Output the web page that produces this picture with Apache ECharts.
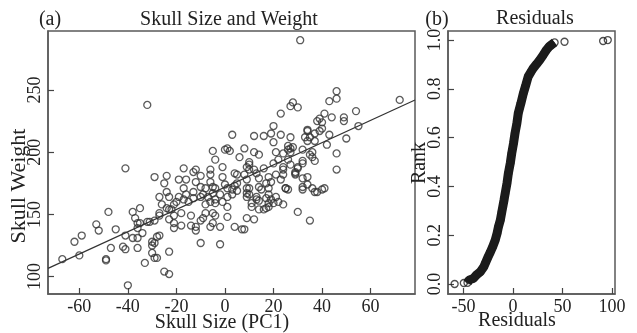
<!DOCTYPE html>
<html>
<head>
<meta charset="utf-8">
<script src="https://cdn.jsdelivr.net/npm/echarts@6/dist/echarts.min.js"></script>
<style>
  html, body { margin: 0; padding: 0; background: #fff; }
  #chart { width: 637px; height: 333px; }
</style>
</head>
<body>
<div id="chart"></div>
<script>
// (a) skull size (PC1) vs skull weight
const skullPoints = [
  [-67,114],[-60,117],[-62,128],[-59,133],[-53,142],[-52,137],[-48,152],[-45,138],[-47,123],[-49,114],
  [-49,113],[-42,124],[-41,122],[-40,93],[-41,133],[-41,187],[-38,131],[-36,131],[-38,152],[-35,155],
  [-37,147],[-36,143],[-36,139],[-34,135],[-35,143],[-32,144],[-36,123],[-33,111],[-31,144],[-29,145],
  [-30,128],[-29,127],[-30,125],[-30,119],[-29,115],[-28,115],[-28,132],[-27,133],[-27,149],[-27,151],
  [-25,104],[-23,102],[-23,120],[-27,164],[-23,164],[-26,158],[-24,155],[-23,154],[-21,158],[-23,146],
  [-32,238],[-29,180],[-24,181],[-25,175],[-24,168],
  [27,237],[23,231],[20,221],[3,214],[12,213],[16,213],[19,215],[23,214],[27,212],[20,208],
  [26,205],[-5,201],[0,202],[2,201],[1,203],[8,203],[12,200],[14,198],[21,200],[24,199],
  [26,202],[27,200],[-4,194],[6,196],[10,192],[10,190],[-17,187],[-12,186],[-13,184],[-6,186],
  [-6,182],[-1,188],[4,183],[5,182],[9,188],[10,186],[12,186],[13,183],[16,187],[20,191],
  [22,194],[24,188],[24,186],[26,194],[27,190],[14,179],[18,180],[21,182],[24,182],[23,178],
  [-19,178],[-16,178],[-12,176],[-10,172],[-8,171],[-6,176],[-5,172],[-4,171],[-1,180],[0,174],
  [1,171],[3,170],[4,173],[5,175],[5,169],[8,182],[9,178],[10,171],[15,170],[17,175],
  [19,176],[25,171],[-17,171],[-16,166],[-13,168],[-19,164],[-9,166],[-7,164],[-5,167],[-2,166],
  [1,164],[3,166],[10,166],[13,164],[18,166],[-20,160],[-17,162],[-15,160],[-13,163],[-10,164],
  [-8,158],[-6,160],[-4,162],[-1,160],[1,156],[-22,154],[-21,149],[-18,151],[-14,149],[-21,139],
  [-21,143],[-18,141],[-14,141],[-12,140],[-12,137],[-10,145],[-9,147],[-8,151],[-5,151],[-4,149],
  [-6,140],[-5,143],[-2,140],[1,148],[-10,127],[-2,126],[7,138],[8,138],[9,147],[12,146],
  [11,156],[14,154],[17,155],[18,159],[9,164],[13,162],[17,163],[19,162],[21,164],[-10,181],
  [-4,159],[4,140],[9,167],[11,159],[14,161],[16,154],[18,156],[20,159],[22,160],[24,158],
  [9,171],[14,172],[18,171],[26,170],[29,182],[29,184],[32,179],[34,174],[37,168],[36,171],
  [30,152],[35,145],[25,171],
  [28,204],[27,203],[34,217],[35,212],[37,215],[39,217],[40,219],[43,214],[50,211],[34,209],
  [37,209],[42,206],[36,200],[35,198],[36,196],[37,193],[32,193],[32,191],[30,188],[30,187],
  [29,183],[46,199],[46,186],[34,180],[32,172],[32,170],[38,168],[40,170],[41,171],[33,212],
  [32,202],[31,290],[28,240],[30,236],[46,249],[46,243],[43,241],[41,231],[39,227],[38,225],
  [40,224],[44,228],[49,228],[49,225],[54,233],[72,242],[55,221],[34,218]
];
// fitted line, read at the two frame edges
const fitLine = [[-72.9, 106.6], [78.3, 242]];

// (b) ranked residuals: dense band plus separate points at the ends
const bandPoints = [
  [-46,0.005],[-44.5,0.016],[-40,0.023],[-37,0.037],[-33,0.05],[-29.5,0.071],[-28,0.085],[-25.1,0.112],
  [-23,0.13],[-20.5,0.153],[-18,0.18],[-16.1,0.208],[-14.7,0.235],[-12.8,0.262],[-11.3,0.296],[-9.1,0.344],
  [-8,0.37],[-6.1,0.413],[-4.7,0.454],[-2.8,0.495],[-1.3,0.536],[0.5,0.577],[2,0.618],[3.9,0.659],
  [5.3,0.70],[7.9,0.74],[10.3,0.78],[12.9,0.816],[15.3,0.85],[18.2,0.87],[20.3,0.884],[23.9,0.902],
  [27,0.918],[30.5,0.939],[33.7,0.959],[36.5,0.973],[38.7,0.98],[42,0.99]
];
const endPoints = [[-59,0.0],[-49.7,0.004],[52,0.993],[91,0.996],[95.7,1.0]];

const sizeTicks = [-60, -40, -20, 0, 20, 40, 60];
const weightTicks = [100, 150, 200, 250];
const residTicks = [-50, 0, 50, 100];
const rankTicks = [0, 0.2, 0.4, 0.6, 0.8, 1.0];

const FONT = 'Liberation Serif';
const INK = '#222';

const chart = echarts.init(document.getElementById('chart'));

function valueAxis(min, max, ticks, extra) {
  return Object.assign({
    type: 'value',
    min: min,
    max: max,
    // the axis line sits on the grid frame
    axisLine: { show: true, onZero: false, lineStyle: { color: '#5a5a5a', width: 1.5 } },
    splitLine: { show: false },
    axisTick: { show: true, inside: true, length: 6, customValues: ticks, lineStyle: { color: '#444', width: 1.2 } },
    axisLabel: { customValues: ticks, color: INK, fontFamily: FONT, fontSize: 18, margin: 4 }
  }, extra || {});
}

function txt(text, x, y, rot, sx) {
  return {
    type: 'text', x: x, y: y, rotation: rot || 0, scaleX: sx || 1,
    style: { text: text, fill: INK, font: '20px "' + FONT + '"', align: 'center', verticalAlign: 'middle' }
  };
}

const option = {
  backgroundColor: '#fff',
  animation: false,
  grid: [
    { left: 48, top: 31, width: 367, height: 263, show: true, borderColor: '#5a5a5a', borderWidth: 1.5, outerBoundsMode: 'none' },
    { left: 448, top: 31, width: 167, height: 263, show: true, borderColor: '#5a5a5a', borderWidth: 1.5, outerBoundsMode: 'none' }
  ],
  xAxis: [
    valueAxis(-72.9, 78.3, sizeTicks, { gridIndex: 0 }),
    valueAxis(-65.7, 103, residTicks, { gridIndex: 1 })
  ],
  yAxis: [
    valueAxis(86, 297.4, weightTicks, { gridIndex: 0 }),
    valueAxis(-0.041, 1.037, rankTicks, { gridIndex: 1 })
  ],
  graphic: [
    txt('(a)', 50, 20),
    txt('Skull Size and Weight', 229, 20),
    txt('(b)', 437, 20),
    txt('Residuals', 535, 19),
    txt('Skull Weight', 20, 186, Math.PI / 2, 1.1),
    txt('Skull Size (PC1)', 222, 323),
    txt('Rank', 420, 163, Math.PI / 2),
    txt('Residuals', 517, 321)
  ],
  series: [
    {
      type: 'scatter', xAxisIndex: 0, yAxisIndex: 0,
      data: skullPoints, symbol: 'circle', symbolSize: 7,
      itemStyle: { color: 'rgba(0,0,0,0)', borderColor: '#333', borderWidth: 1.3 }
    },
    {
      type: 'line', xAxisIndex: 0, yAxisIndex: 0,
      data: fitLine, symbol: 'none',
      lineStyle: { color: '#333', width: 1.2 }
    },
    {
      type: 'line', xAxisIndex: 1, yAxisIndex: 1,
      data: bandPoints, symbol: 'none',
      lineStyle: { color: '#1b1b1b', width: 9 }
    },
    {
      type: 'scatter', xAxisIndex: 1, yAxisIndex: 1,
      data: bandPoints.concat(endPoints), symbol: 'circle', symbolSize: 7,
      itemStyle: { color: 'rgba(0,0,0,0)', borderColor: '#222', borderWidth: 1.3 }
    }
  ]
};

// vertical tick labels like the original
option.yAxis[0].axisLabel.rotate = 90;
option.yAxis[1].axisLabel.rotate = 90;
option.yAxis[1].axisLabel.formatter = v => v.toFixed(1);

chart.setOption(option);
</script>
</body>
</html>
